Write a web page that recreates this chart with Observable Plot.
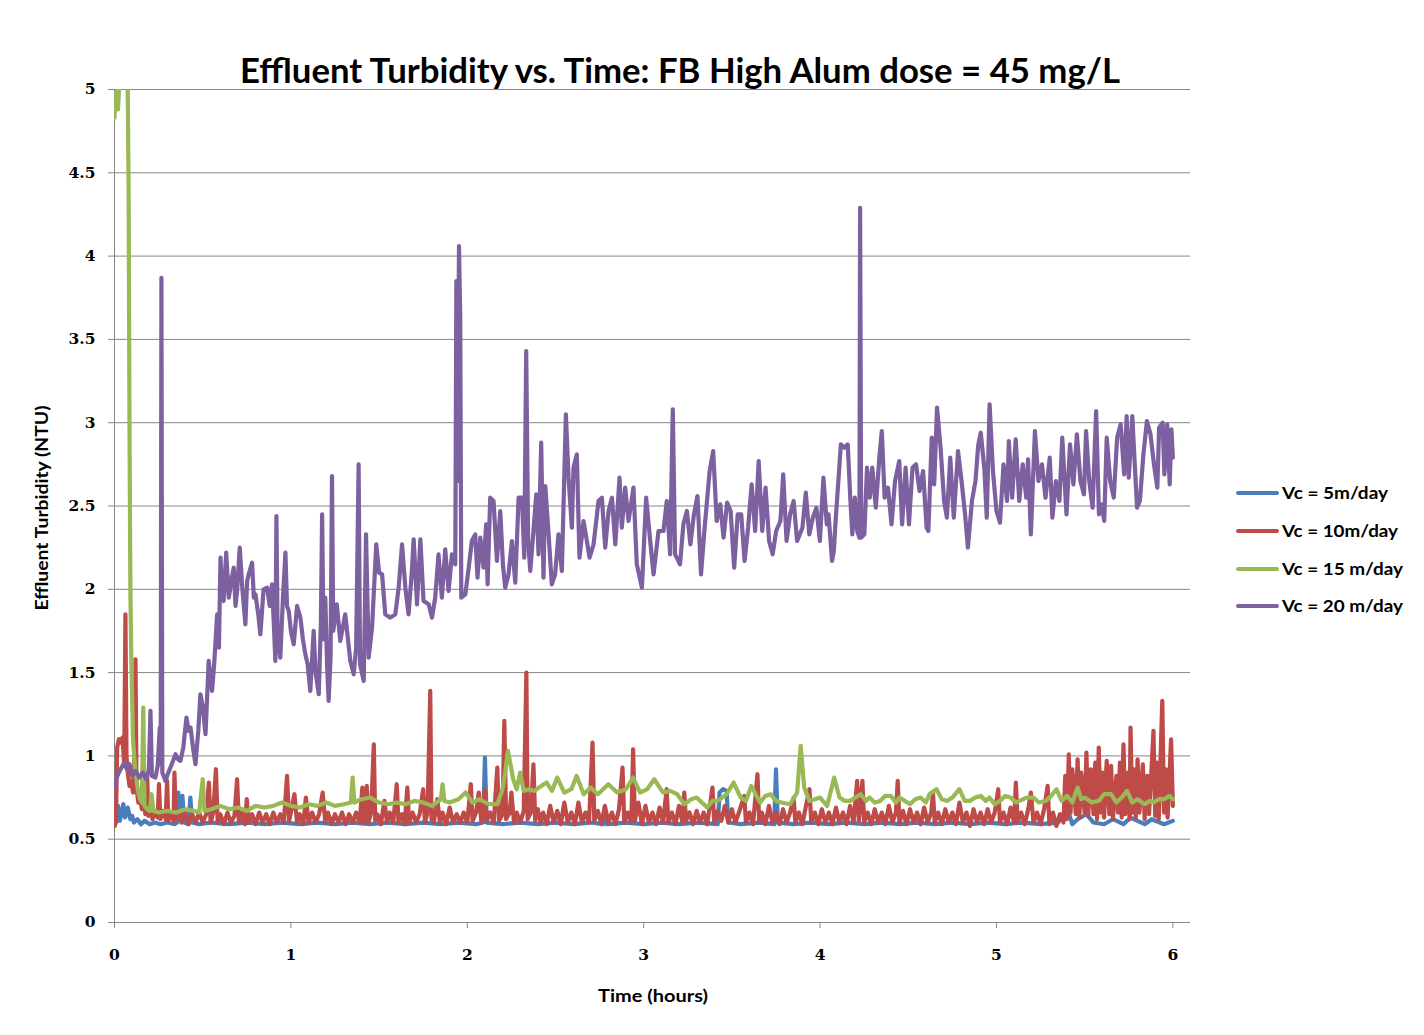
<!DOCTYPE html>
<html><head><meta charset="utf-8">
<script src="https://cdn.jsdelivr.net/npm/d3@7"></script>
<script src="https://cdn.jsdelivr.net/npm/@observablehq/plot@0.6"></script>
<style>
body{margin:0;background:#fff;}
#wrap{width:1424px;height:1035px;}
</style></head><body><div id="wrap"></div>
<script>
const titleText = "Effluent Turbidity vs. Time: FB High Alum dose = 45 mg/L";
const xLabel = "Time (hours)";
const yLabel = "Effluent Turbidity (NTU)";
const seriesNames = ["Vc = 5m/day", "Vc = 10m/day", "Vc = 15 m/day", "Vc = 20 m/day"];
const seriesColors = ["#4A7EBB", "#BE4B48", "#98B954", "#7D60A0"];
const xTicks = [0, 1, 2, 3, 4, 5, 6];
const yTicks = [0, 0.5, 1, 1.5, 2, 2.5, 3, 3.5, 4, 4.5, 5];

// [time (hours), turbidity (NTU)]
const vc5 = [[0,0.58],[0.01,0.62],[0.02,0.70],[0.03,0.61],[0.04,0.66],[0.05,0.71],[0.06,0.63],[0.075,0.69],[0.09,0.62],[0.1,0.64],[0.11,0.60],[0.13,0.62],[0.15,0.59],[0.17,0.61],[0.2,0.59],[0.23,0.60],[0.26,0.59],[0.3,0.60],[0.34,0.59],[0.355,0.60],[0.362,0.78],[0.37,0.62],[0.385,0.76],[0.395,0.60],[0.42,0.59],[0.43,0.75],[0.44,0.60],[0.48,0.59],[0.55,0.60],[0.65,0.59],[0.75,0.60],[0.85,0.59],[0.95,0.60],[1.05,0.59],[1.15,0.60],[1.25,0.59],[1.35,0.60],[1.45,0.59],[1.55,0.60],[1.65,0.59],[1.75,0.60],[1.85,0.59],[1.95,0.60],[2.05,0.59],[2.09,0.60],[2.10,0.99],[2.11,0.60],[2.2,0.59],[2.3,0.60],[2.4,0.59],[2.5,0.60],[2.6,0.59],[2.7,0.60],[2.77,0.59],[2.78,0.65],[2.79,0.59],[2.9,0.60],[3.0,0.59],[3.1,0.60],[3.2,0.59],[3.3,0.60],[3.42,0.59],[3.43,0.78],[3.45,0.80],[3.47,0.79],[3.48,0.60],[3.55,0.59],[3.65,0.60],[3.74,0.59],[3.75,0.92],[3.76,0.60],[3.85,0.59],[3.95,0.60],[4.05,0.59],[4.15,0.60],[4.25,0.59],[4.35,0.60],[4.45,0.59],[4.55,0.60],[4.65,0.59],[4.75,0.60],[4.85,0.59],[4.95,0.60],[5.05,0.59],[5.15,0.60],[5.25,0.59],[5.35,0.60],[5.40,0.69],[5.43,0.59],[5.46,0.62],[5.51,0.65],[5.55,0.60],[5.61,0.59],[5.66,0.62],[5.72,0.59],[5.76,0.63],[5.84,0.59],[5.88,0.62],[5.95,0.59],[6.0,0.61]];

const vc10 = [[0,0.58],[0.008,0.60],[0.015,1.05],[0.025,1.10],[0.035,1.08],[0.045,1.11],[0.055,0.95],[0.062,1.85],[0.068,1.00],[0.075,0.90],[0.085,0.82],[0.095,0.85],[0.105,0.78],[0.112,0.95],[0.119,1.58],[0.125,0.80],[0.135,0.72],[0.145,0.75],[0.155,0.68],[0.165,0.72],[0.175,0.65],[0.185,0.89],[0.192,0.64],[0.205,0.68],[0.215,0.62],[0.23,0.66],[0.245,0.63],[0.252,0.83],[0.26,0.62],[0.275,0.67],[0.29,0.62],[0.298,0.85],[0.305,0.61],[0.32,0.66],[0.335,0.61],[0.34,0.90],[0.348,0.62],[0.36,0.67],[0.38,0.60],[0.40,0.66],[0.42,0.59],[0.44,0.65],[0.46,0.60],[0.48,0.66],[0.50,0.60],[0.52,0.65],[0.535,0.84],[0.545,0.60],[0.56,0.66],[0.575,0.92],[0.585,0.60],[0.60,0.65],[0.62,0.59],[0.64,0.66],[0.66,0.60],[0.68,0.64],[0.695,0.86],[0.705,0.60],[0.72,0.66],[0.74,0.59],[0.75,0.74],[0.76,0.60],[0.78,0.65],[0.80,0.59],[0.82,0.66],[0.84,0.60],[0.86,0.65],[0.88,0.59],[0.90,0.66],[0.92,0.60],[0.94,0.65],[0.96,0.60],[0.978,0.88],[0.99,0.61],[1.00,0.66],[1.02,0.77],[1.035,0.60],[1.05,0.65],[1.07,0.59],[1.085,0.75],[1.10,0.60],[1.12,0.66],[1.14,0.60],[1.16,0.65],[1.18,0.78],[1.195,0.60],[1.21,0.66],[1.23,0.59],[1.25,0.65],[1.27,0.60],[1.29,0.66],[1.31,0.59],[1.33,0.65],[1.35,0.60],[1.37,0.66],[1.39,0.60],[1.405,0.81],[1.415,0.60],[1.43,0.82],[1.44,0.60],[1.455,0.66],[1.47,1.07],[1.478,0.61],[1.49,0.65],[1.51,0.59],[1.53,0.73],[1.545,0.60],[1.56,0.66],[1.58,0.60],[1.60,0.83],[1.61,0.60],[1.63,0.65],[1.645,0.59],[1.66,0.81],[1.67,0.60],[1.69,0.66],[1.71,0.60],[1.73,0.65],[1.75,0.80],[1.76,0.60],[1.775,0.66],[1.79,1.39],[1.797,0.62],[1.81,0.60],[1.83,0.74],[1.845,0.60],[1.86,0.66],[1.88,0.59],[1.90,0.69],[1.92,0.60],[1.94,0.65],[1.96,0.60],[1.98,0.66],[2.00,0.60],[2.02,0.83],[2.03,0.61],[2.05,0.66],[2.065,0.78],[2.08,0.60],[2.10,0.80],[2.11,0.61],[2.13,0.66],[2.15,0.60],[2.17,0.93],[2.18,0.61],[2.20,0.65],[2.21,1.21],[2.22,0.62],[2.24,0.66],[2.25,0.78],[2.265,0.60],[2.28,0.66],[2.30,0.60],[2.32,0.67],[2.335,1.50],[2.342,0.62],[2.36,0.66],[2.375,0.95],[2.385,0.61],[2.40,0.68],[2.415,0.60],[2.43,0.66],[2.45,0.59],[2.47,0.70],[2.49,0.60],[2.51,0.67],[2.53,0.59],[2.55,0.72],[2.57,0.60],[2.59,0.66],[2.61,0.59],[2.63,0.72],[2.65,0.60],[2.67,0.66],[2.69,0.60],[2.71,1.08],[2.72,0.61],[2.74,0.67],[2.76,0.59],[2.78,0.70],[2.80,0.60],[2.82,0.66],[2.84,0.59],[2.86,0.68],[2.88,0.93],[2.89,0.60],[2.91,0.66],[2.93,0.60],[2.94,1.04],[2.95,0.61],[2.97,0.72],[2.99,0.59],[3.01,0.70],[3.03,0.60],[3.05,0.66],[3.07,0.59],[3.09,0.69],[3.11,0.60],[3.13,0.80],[3.14,0.60],[3.16,0.66],[3.18,0.59],[3.20,0.70],[3.22,0.60],[3.23,0.78],[3.24,0.61],[3.26,0.66],[3.28,0.59],[3.30,0.67],[3.32,0.60],[3.34,0.66],[3.36,0.59],[3.39,0.81],[3.40,0.60],[3.42,0.67],[3.44,0.61],[3.46,0.70],[3.48,0.60],[3.50,0.68],[3.52,0.60],[3.54,0.66],[3.57,0.76],[3.58,0.60],[3.60,0.66],[3.62,0.59],[3.645,0.89],[3.655,0.60],[3.67,0.66],[3.69,0.59],[3.71,0.70],[3.73,0.60],[3.75,0.66],[3.77,0.59],[3.79,0.68],[3.81,0.60],[3.83,0.66],[3.85,0.75],[3.86,0.60],[3.88,0.66],[3.90,0.59],[3.92,0.70],[3.94,0.80],[3.95,0.60],[3.97,0.66],[3.99,0.59],[4.01,0.68],[4.03,0.60],[4.05,0.66],[4.07,0.59],[4.09,0.69],[4.11,0.60],[4.13,0.66],[4.15,0.59],[4.17,0.70],[4.19,0.60],[4.21,0.85],[4.22,0.61],[4.24,0.85],[4.25,0.60],[4.27,0.66],[4.29,0.59],[4.31,0.68],[4.33,0.60],[4.35,0.66],[4.37,0.59],[4.39,0.70],[4.41,0.60],[4.43,0.66],[4.44,0.85],[4.45,0.60],[4.47,0.67],[4.49,0.59],[4.51,0.68],[4.53,0.60],[4.55,0.66],[4.57,0.59],[4.59,0.69],[4.61,0.60],[4.63,0.66],[4.64,0.78],[4.65,0.60],[4.67,0.66],[4.69,0.59],[4.71,0.68],[4.73,0.60],[4.75,0.66],[4.77,0.59],[4.79,0.72],[4.81,0.60],[4.83,0.66],[4.85,0.58],[4.87,0.68],[4.89,0.60],[4.91,0.66],[4.93,0.59],[4.95,0.68],[4.97,0.60],[4.99,0.66],[5.01,0.80],[5.02,0.60],[5.04,0.66],[5.06,0.59],[5.08,0.69],[5.10,0.60],[5.11,0.84],[5.12,0.60],[5.14,0.66],[5.16,0.59],[5.18,0.68],[5.195,0.78],[5.21,0.60],[5.23,0.66],[5.25,0.59],[5.27,0.68],[5.29,0.82],[5.30,0.59],[5.32,0.66],[5.34,0.58],[5.36,0.65],[5.38,0.60],[5.39,0.88],[5.40,0.62],[5.41,1.01],[5.42,0.66],[5.43,0.92],[5.45,0.65],[5.46,0.98],[5.47,0.63],[5.48,0.90],[5.50,0.66],[5.51,1.02],[5.52,0.64],[5.535,0.92],[5.55,0.65],[5.56,0.96],[5.57,0.62],[5.58,1.05],[5.59,0.66],[5.60,0.90],[5.61,0.63],[5.625,0.97],[5.64,0.65],[5.65,0.94],[5.66,0.62],[5.68,0.88],[5.69,0.66],[5.70,0.96],[5.71,0.63],[5.72,1.07],[5.73,0.65],[5.745,0.90],[5.755,0.62],[5.76,1.17],[5.77,0.66],[5.78,0.92],[5.79,0.63],[5.80,0.98],[5.81,0.66],[5.83,0.95],[5.84,0.62],[5.855,0.88],[5.865,0.65],[5.88,0.94],[5.89,1.15],[5.90,0.64],[5.91,0.96],[5.92,0.62],[5.94,1.33],[5.95,0.66],[5.96,0.92],[5.97,0.63],[5.99,1.10],[6.00,0.70]];

const vc15 = [[0,4.83],[0.005,4.98],[0.01,4.90],[0.015,5.0],[0.02,4.88],[0.025,5.0],[0.03,5.6],[0.07,5.6],[0.075,5.0],[0.08,4.4],[0.085,3.0],[0.09,2.0],[0.095,1.6],[0.105,1.1],[0.115,0.95],[0.125,0.85],[0.135,0.78],[0.145,0.74],[0.155,0.72],[0.163,1.29],[0.17,0.70],[0.185,0.68],[0.2,0.67],[0.21,0.77],[0.22,0.67],[0.25,0.66],[0.3,0.67],[0.35,0.66],[0.4,0.68],[0.45,0.67],[0.48,0.66],[0.5,0.86],[0.51,0.67],[0.55,0.68],[0.6,0.70],[0.65,0.68],[0.7,0.69],[0.75,0.67],[0.8,0.70],[0.85,0.69],[0.9,0.70],[0.95,0.72],[1.0,0.70],[1.05,0.69],[1.1,0.71],[1.15,0.70],[1.2,0.72],[1.25,0.70],[1.3,0.71],[1.34,0.72],[1.35,0.87],[1.36,0.72],[1.4,0.74],[1.45,0.75],[1.5,0.72],[1.55,0.71],[1.6,0.72],[1.65,0.71],[1.7,0.73],[1.75,0.72],[1.8,0.70],[1.85,0.74],[1.86,0.83],[1.87,0.73],[1.9,0.72],[1.95,0.74],[1.99,0.78],[2.03,0.72],[2.07,0.74],[2.12,0.71],[2.17,0.71],[2.2,0.80],[2.215,0.90],[2.23,1.03],[2.245,0.95],[2.26,0.86],[2.28,0.80],[2.3,0.90],[2.32,0.79],[2.35,0.80],[2.38,0.79],[2.42,0.82],[2.45,0.84],[2.48,0.79],[2.51,0.87],[2.55,0.78],[2.59,0.80],[2.62,0.88],[2.66,0.77],[2.7,0.81],[2.74,0.77],[2.77,0.80],[2.8,0.83],[2.85,0.78],[2.9,0.80],[2.94,0.87],[2.98,0.78],[3.02,0.80],[3.06,0.86],[3.11,0.78],[3.15,0.79],[3.19,0.77],[3.23,0.71],[3.27,0.74],[3.3,0.75],[3.33,0.72],[3.36,0.69],[3.39,0.73],[3.42,0.73],[3.47,0.77],[3.51,0.84],[3.55,0.75],[3.58,0.73],[3.61,0.82],[3.66,0.72],[3.69,0.76],[3.72,0.77],[3.75,0.73],[3.78,0.72],[3.83,0.71],[3.87,0.78],[3.89,1.06],[3.91,0.81],[3.94,0.73],[3.97,0.74],[4.0,0.75],[4.04,0.70],[4.08,0.87],[4.11,0.75],[4.14,0.73],[4.17,0.73],[4.2,0.75],[4.23,0.77],[4.26,0.73],[4.28,0.75],[4.31,0.72],[4.34,0.73],[4.37,0.76],[4.4,0.76],[4.43,0.72],[4.45,0.75],[4.48,0.73],[4.51,0.71],[4.54,0.74],[4.57,0.75],[4.6,0.72],[4.62,0.77],[4.66,0.80],[4.69,0.74],[4.72,0.73],[4.75,0.75],[4.79,0.80],[4.82,0.73],[4.85,0.73],[4.88,0.75],[4.91,0.76],[4.94,0.73],[4.96,0.75],[4.99,0.71],[5.02,0.73],[5.05,0.76],[5.08,0.75],[5.11,0.72],[5.13,0.73],[5.17,0.75],[5.21,0.75],[5.24,0.72],[5.28,0.73],[5.31,0.76],[5.34,0.80],[5.37,0.73],[5.4,0.76],[5.43,0.72],[5.46,0.81],[5.48,0.74],[5.5,0.75],[5.54,0.72],[5.58,0.73],[5.61,0.77],[5.65,0.77],[5.68,0.72],[5.71,0.75],[5.74,0.79],[5.77,0.72],[5.8,0.74],[5.84,0.71],[5.87,0.73],[5.89,0.72],[5.92,0.74],[5.95,0.74],[5.98,0.76],[6.0,0.74]];

const vc20 = [[0,0.81],[0.01,0.86],[0.02,0.89],[0.04,0.93],[0.055,0.96],[0.07,0.92],[0.085,0.95],[0.1,0.88],[0.12,0.91],[0.14,0.87],[0.16,0.90],[0.18,0.86],[0.195,0.92],[0.204,1.27],[0.212,0.88],[0.232,0.87],[0.245,0.94],[0.257,1.17],[0.262,0.95],[0.266,3.87],[0.271,0.90],[0.289,0.85],[0.305,0.90],[0.317,0.93],[0.346,1.01],[0.36,0.98],[0.374,0.97],[0.39,1.05],[0.408,1.23],[0.42,1.15],[0.431,1.17],[0.445,1.05],[0.459,0.95],[0.475,1.15],[0.487,1.37],[0.5,1.30],[0.516,1.13],[0.534,1.57],[0.553,1.39],[0.565,1.55],[0.582,1.85],[0.592,1.65],[0.601,2.19],[0.61,1.95],[0.619,1.93],[0.633,2.22],[0.648,1.95],[0.662,2.05],[0.676,2.13],[0.686,1.90],[0.695,1.99],[0.71,2.25],[0.725,2.00],[0.742,1.79],[0.752,2.05],[0.761,2.09],[0.78,2.16],[0.79,1.95],[0.799,1.97],[0.815,1.85],[0.827,1.73],[0.845,2.00],[0.865,2.01],[0.88,1.90],[0.893,2.03],[0.905,1.75],[0.912,1.57],[0.918,2.44],[0.925,1.70],[0.94,1.59],[0.955,1.95],[0.969,2.22],[0.978,1.90],[0.988,1.87],[1.0,1.75],[1.016,1.67],[1.035,1.90],[1.054,1.83],[1.068,1.70],[1.082,1.61],[1.095,1.55],[1.11,1.39],[1.129,1.75],[1.14,1.50],[1.158,1.37],[1.17,1.80],[1.177,2.45],[1.185,1.70],[1.195,1.95],[1.205,1.55],[1.214,1.33],[1.225,1.60],[1.233,2.68],[1.24,1.75],[1.26,1.91],[1.28,1.69],[1.308,1.85],[1.337,1.57],[1.356,1.49],[1.37,1.65],[1.384,2.75],[1.392,1.55],[1.413,1.45],[1.426,2.33],[1.441,1.59],[1.46,1.77],[1.484,2.27],[1.5,2.10],[1.517,2.09],[1.535,1.85],[1.564,1.83],[1.592,1.85],[1.611,2.01],[1.63,2.27],[1.649,2.01],[1.667,1.85],[1.686,2.11],[1.696,2.30],[1.715,1.91],[1.734,2.30],[1.752,1.93],[1.781,1.91],[1.8,1.83],[1.818,1.95],[1.837,2.21],[1.856,1.95],[1.875,2.24],[1.894,1.99],[1.913,2.21],[1.932,2.15],[1.938,3.85],[1.945,2.65],[1.953,4.06],[1.96,3.63],[1.966,1.95],[1.989,1.97],[2.008,2.13],[2.026,2.29],[2.045,2.33],[2.058,2.07],[2.074,2.31],[2.092,2.13],[2.107,2.39],[2.115,2.03],[2.13,2.55],[2.149,2.53],[2.168,2.17],[2.187,2.47],[2.202,2.15],[2.215,2.01],[2.234,2.09],[2.253,2.29],[2.272,2.04],[2.291,2.55],[2.31,2.55],[2.323,2.19],[2.334,3.43],[2.345,2.29],[2.357,2.11],[2.375,2.35],[2.391,2.57],[2.404,2.21],[2.419,2.88],[2.432,2.07],[2.442,2.62],[2.461,2.33],[2.479,2.03],[2.498,2.09],[2.517,2.33],[2.536,2.11],[2.559,3.05],[2.574,2.67],[2.593,2.37],[2.602,2.73],[2.621,2.81],[2.636,2.19],[2.659,2.41],[2.678,2.29],[2.693,2.19],[2.716,2.27],[2.744,2.53],[2.763,2.55],[2.782,2.25],[2.801,2.47],[2.82,2.55],[2.839,2.27],[2.863,2.67],[2.876,2.37],[2.895,2.61],[2.914,2.41],[2.942,2.61],[2.961,2.15],[2.99,2.01],[3.014,2.55],[3.037,2.29],[3.056,2.09],[3.084,2.35],[3.112,2.35],[3.131,2.53],[3.15,2.21],[3.165,3.08],[3.178,2.21],[3.206,2.15],[3.225,2.39],[3.245,2.47],[3.265,2.27],[3.285,2.45],[3.305,2.56],[3.325,2.09],[3.344,2.35],[3.374,2.71],[3.394,2.83],[3.414,2.41],[3.434,2.51],[3.453,2.31],[3.473,2.52],[3.493,2.47],[3.513,2.13],[3.533,2.45],[3.553,2.45],[3.572,2.17],[3.592,2.37],[3.612,2.63],[3.632,2.35],[3.652,2.77],[3.672,2.35],[3.691,2.61],[3.711,2.29],[3.731,2.21],[3.751,2.35],[3.775,2.41],[3.791,2.69],[3.81,2.29],[3.83,2.45],[3.85,2.53],[3.87,2.29],[3.9,2.37],[3.919,2.58],[3.939,2.33],[3.959,2.43],[3.979,2.49],[3.999,2.29],[4.019,2.67],[4.038,2.39],[4.048,2.45],[4.068,2.17],[4.078,2.23],[4.088,2.41],[4.118,2.87],[4.138,2.85],[4.157,2.87],[4.171,2.55],[4.183,2.33],[4.197,2.55],[4.211,2.35],[4.223,2.31],[4.227,4.29],[4.233,2.31],[4.251,2.33],[4.266,2.73],[4.282,2.55],[4.296,2.73],[4.316,2.49],[4.336,2.79],[4.35,2.95],[4.366,2.55],[4.385,2.61],[4.405,2.39],[4.425,2.65],[4.449,2.77],[4.465,2.39],[4.485,2.73],[4.504,2.39],[4.524,2.73],[4.544,2.75],[4.564,2.59],[4.584,2.71],[4.604,2.37],[4.614,2.35],[4.633,2.91],[4.647,2.63],[4.663,3.09],[4.683,2.85],[4.703,2.53],[4.719,2.43],[4.738,2.79],[4.758,2.43],[4.782,2.83],[4.802,2.65],[4.822,2.45],[4.838,2.25],[4.861,2.53],[4.881,2.65],[4.897,2.87],[4.911,2.94],[4.931,2.73],[4.945,2.43],[4.961,3.11],[4.98,2.71],[5.0,2.47],[5.02,2.40],[5.04,2.75],[5.06,2.53],[5.07,2.89],[5.089,2.55],[5.109,2.90],[5.129,2.53],[5.149,2.75],[5.169,2.55],[5.179,2.78],[5.195,2.33],[5.218,2.95],[5.238,2.65],[5.258,2.75],[5.278,2.55],[5.302,2.79],[5.317,2.43],[5.337,2.65],[5.357,2.53],[5.373,2.91],[5.397,2.45],[5.417,2.87],[5.436,2.63],[5.456,2.93],[5.476,2.65],[5.496,2.57],[5.508,2.95],[5.526,2.65],[5.545,2.49],[5.565,3.07],[5.581,2.45],[5.595,2.51],[5.611,2.41],[5.625,2.91],[5.645,2.65],[5.665,2.55],[5.684,2.91],[5.704,2.99],[5.724,2.69],[5.738,3.04],[5.75,2.67],[5.77,3.04],[5.784,2.75],[5.797,2.49],[5.813,2.53],[5.833,2.81],[5.853,3.01],[5.873,2.93],[5.893,2.75],[5.912,2.61],[5.922,2.97],[5.942,3.00],[5.952,2.69],[5.968,2.99],[5.982,2.63],[5.992,2.96],[6.0,2.79]];

const seriesData = [vc5, vc10, vc15, vc20];
const gridColor = "#868686";
const tickFont = "'DejaVu Serif', serif";
const labelFont = "Lato, 'Open Sans', sans-serif";

const lineMarks = seriesData.map((data, i) =>
  Plot.line(data, {x: d => d[0], y: d => d[1], stroke: seriesColors[i], strokeWidth: 4.2, clip: true})
);

const svg = Plot.plot({
  width: 1424, height: 1035,
  marginLeft: 114, marginRight: 234, marginTop: 89, marginBottom: 113,
  x: {domain: [0, 6.1]},
  y: {domain: [0, 5]},
  style: {background: "white", color: "black"},
  marks: [
    Plot.gridY(yTicks, {stroke: gridColor, strokeOpacity: 1, strokeWidth: 1}),
    Plot.ruleX([0], {stroke: gridColor, strokeWidth: 1}),
    Plot.axisY({ticks: yTicks, tickSize: 6, tickPadding: 13, stroke: gridColor, fill: "black",
      fontSize: 15.5, fontWeight: "bold", fontFamily: tickFont, label: null, tickFormat: d => String(d)}),
    Plot.axisX({ticks: xTicks, tickSize: 6, tickPadding: 20, stroke: gridColor, fill: "black",
      fontSize: 15.5, fontWeight: "bold", fontFamily: tickFont, label: null, tickFormat: d => String(d)}),
    ...lineMarks
  ]
});

const s = d3.select(svg);
s.append("text").attr("x", 680).attr("y", 83).attr("text-anchor", "middle")
  .attr("font-family", labelFont).attr("font-weight", "bold").attr("font-size", 34)
  .attr("textLength", 880).attr("lengthAdjust", "spacingAndGlyphs").attr("fill", "black").text(titleText);
s.append("text").attr("transform", "translate(48,508) rotate(-90)").attr("text-anchor", "middle")
  .attr("font-family", labelFont).attr("font-weight", "bold").attr("font-size", 16.5)
  .attr("textLength", 205).attr("lengthAdjust", "spacingAndGlyphs").attr("fill", "black").text(yLabel);
s.append("text").attr("x", 653).attr("y", 1002).attr("text-anchor", "middle")
  .attr("font-family", labelFont).attr("font-weight", "bold").attr("font-size", 16.5)
  .attr("textLength", 110).attr("lengthAdjust", "spacingAndGlyphs").attr("fill", "black").text(xLabel);

const legendY = [493, 531, 569, 606];
const legendW = [106, 116, 121, 121];
seriesNames.forEach((name, i) => {
  s.append("line").attr("x1", 1238).attr("x2", 1277).attr("y1", legendY[i]).attr("y2", legendY[i])
    .attr("stroke", seriesColors[i]).attr("stroke-width", 4).attr("stroke-linecap", "round");
  s.append("text").attr("x", 1282).attr("y", legendY[i] + 6).attr("text-anchor", "start")
    .attr("font-family", labelFont).attr("font-weight", "bold").attr("font-size", 17)
    .attr("textLength", legendW[i]).attr("lengthAdjust", "spacingAndGlyphs").attr("fill", "black").text(name);
});

document.getElementById("wrap").appendChild(svg);
</script></body></html>
